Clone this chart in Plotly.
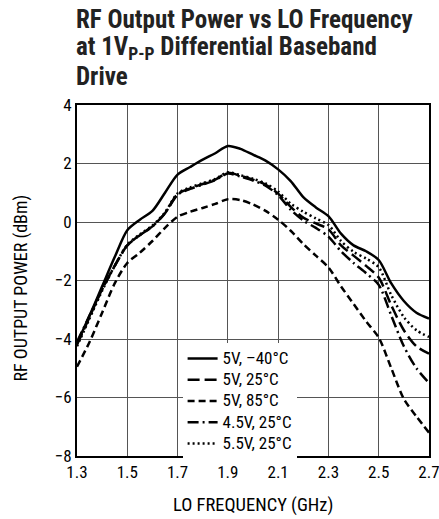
import plotly.graph_objects as go

freq = [1.30, 1.35, 1.40, 1.45, 1.50, 1.55, 1.60, 1.65, 1.70, 1.75, 1.80, 1.85, 1.90, 1.95,
        2.00, 2.05, 2.10, 2.15, 2.20, 2.25, 2.30, 2.35, 2.40, 2.45, 2.50, 2.55, 2.60, 2.65, 2.70]

p_5v_m40 = [-4.15, -3.2, -2.2, -1.2, -0.28, 0.08, 0.38, 1.0, 1.62, 1.88, 2.13, 2.35, 2.6, 2.5,
            2.3, 2.1, 1.8, 1.4, 0.85, 0.5, 0.2, -0.4, -0.8, -1.0, -1.3, -2.1, -2.7, -3.1, -3.3]
p_5v_25 = [-4.2, -3.25, -2.3, -1.5, -0.8, -0.45, -0.15, 0.3, 0.95, 1.15, 1.3, 1.45, 1.68, 1.58,
           1.45, 1.28, 0.97, 0.52, 0.15, -0.05, -0.25, -0.8, -1.15, -1.5, -1.9, -2.85, -3.7, -4.25, -4.5]
p_5v_85 = [-4.95, -4.1, -3.1, -2.1, -1.4, -1.05, -0.65, -0.2, 0.18, 0.35, 0.48, 0.62, 0.78, 0.75,
           0.6, 0.38, 0.08, -0.3, -0.75, -1.15, -1.55, -2.2, -2.8, -3.4, -3.95, -5.0, -6.05, -6.65, -7.2]
p_45v_25 = [-4.1, -3.2, -2.3, -1.5, -0.8, -0.45, -0.15, 0.3, 0.93, 1.13, 1.28, 1.43, 1.66, 1.55,
            1.42, 1.24, 0.92, 0.42, 0.05, -0.2, -0.5, -1.0, -1.4, -1.75, -2.15, -3.2, -4.25, -5.0, -5.5]
p_55v_25 = [-4.25, -3.3, -2.35, -1.5, -0.78, -0.42, -0.12, 0.33, 0.98, 1.18, 1.33, 1.47, 1.7, 1.6,
            1.48, 1.32, 1.04, 0.63, 0.35, 0.12, -0.1, -0.65, -1.02, -1.25, -1.55, -2.5, -3.25, -3.7, -3.93]

series_names = ["5V, –40°C", "5V, 25°C", "5V, 85°C", "4.5V, 25°C", "5.5V, 25°C"]
series_vals = [p_5v_m40, p_5v_25, p_5v_85, p_45v_25, p_55v_25]
dashes = ["solid", "12px,5px", "7px,4px", "11px,4px,2px,4px", "2px,3px"]

x_ticks = [1.3, 1.5, 1.7, 1.9, 2.1, 2.3, 2.5, 2.7]
y_ticks = [-8, -6, -4, -2, 0, 2, 4]

title_lines = ["RF Output Power vs LO Frequency",
               "at 1V<sub>P-P</sub> Differential Baseband",
               "Drive"]
x_title = "LO FREQUENCY (GHz)"
y_title = "RF OUTPUT POWER (dBm)"

FONT = "Roboto Condensed, Liberation Sans, sans-serif"

fig = go.Figure()
for name, vals, d in zip(series_names, series_vals, dashes):
    fig.add_trace(go.Scatter(
        x=freq, y=vals, mode="lines",
        name=f"<span style='font-size:17px'>{name}</span>",
        line=dict(color="black", width=2.5, dash=d, shape="spline", smoothing=0.8),
    ))

fig.update_layout(
    width=439, height=519,
    margin=dict(l=77, r=10, t=105, b=63, autoexpand=False),
    paper_bgcolor="white", plot_bgcolor="white",
    font=dict(family=FONT, size=17, color="black"),
    showlegend=True,
    legend=dict(
        x=0.30, y=0.322, xanchor="left", yanchor="top",
        bgcolor="white", borderwidth=0,
        font=dict(family=FONT, size=14, color="black"),
        itemwidth=30, tracegroupgap=0,
    ),
    xaxis=dict(
        range=[1.3, 2.7], tickvals=x_ticks, ticktext=[f"{v:.1f}" for v in x_ticks],
        showgrid=True, gridcolor="#555", gridwidth=1,
        showline=True, linecolor="black", linewidth=2, mirror=True,
        ticks="", zeroline=False, automargin=False, ticklabeloverflow="allow",
        tickfont=dict(size=17),
    ),
    yaxis=dict(
        range=[-8, 4], tickvals=y_ticks,
        showgrid=True, gridcolor="#555", gridwidth=1,
        showline=True, linecolor="black", linewidth=2, mirror=True,
        ticks="", zeroline=False, automargin=False, ticklabeloverflow="allow",
        tickfont=dict(size=17),
    ),
)

# Title lines
for txt, ysh in zip(title_lines, [86, 57, 29]):
    fig.add_annotation(
        xref="paper", yref="paper", x=0, y=1, xanchor="left", yanchor="middle",
        xshift=-3, yshift=ysh, text=f"<b>{txt}</b>", showarrow=False, align="left",
        font=dict(family=FONT, size=25, color="#222"),
    )

# Axis titles
fig.add_annotation(
    xref="paper", yref="paper", x=0.5, y=0, xanchor="center", yanchor="middle",
    yshift=-49, text=x_title, showarrow=False,
    font=dict(family=FONT, size=18.5, color="black"),
)
fig.add_annotation(
    xref="paper", yref="paper", x=0, y=0.5, xanchor="center", yanchor="middle",
    xshift=-57, yshift=-8, text=y_title, showarrow=False, textangle=-90,
    font=dict(family=FONT, size=18, color="black"),
)

fig.write_html("out.html", post_script="document.body.style.margin='0';",
               config={"displayModeBar": False})
